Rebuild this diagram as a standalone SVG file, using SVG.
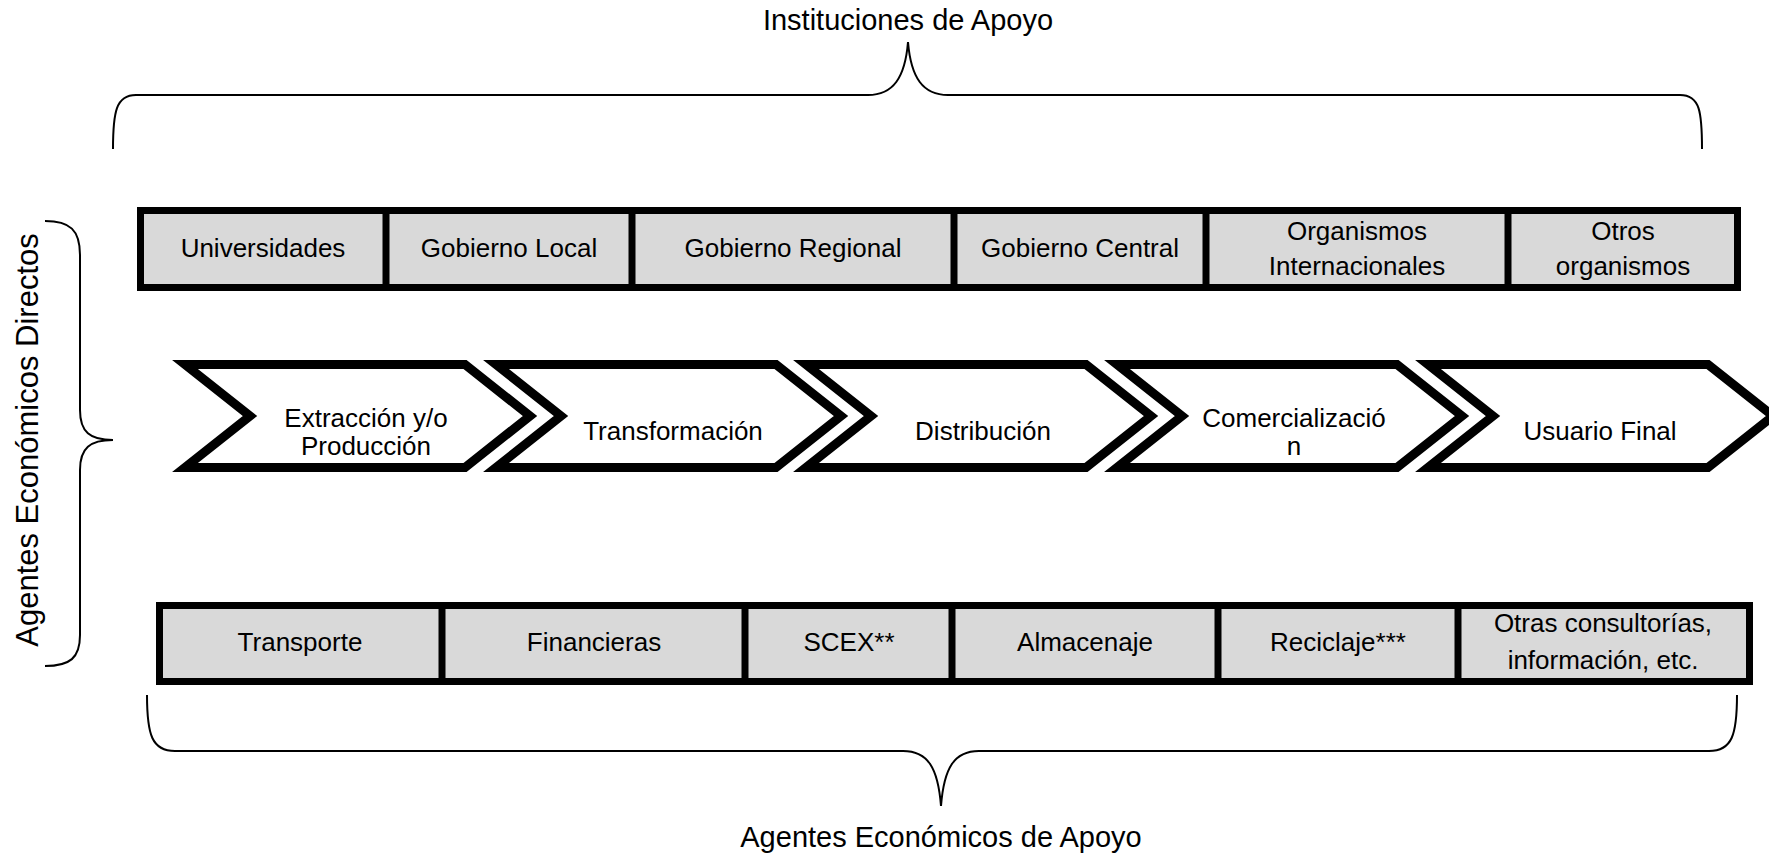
<svg xmlns="http://www.w3.org/2000/svg" width="1769" height="854" viewBox="0 0 1769 854">
<defs>
<style>
text{font-family:"Liberation Sans",Arial,sans-serif;fill:#000;text-anchor:middle}
.lbl{font-size:29px}
.lbl-v{font-size:31px}
.box{font-size:26px}
.chv{font-size:26px}
.cell{fill:#d9d9d9;stroke:#000;stroke-width:7}
.div{stroke:#000;stroke-width:7}
.chevron{fill:#fff;stroke:#000;stroke-width:9;stroke-linejoin:miter}
.brace{fill:none;stroke:#000;stroke-width:2}
</style>
</defs>
<rect width="1769" height="854" fill="#fff"/>

<g id="connectors">
<path id="brace-top" class="brace" d="M113,149 C113,112 116,95 136,95 L868,95 C893,95 905,78 908,42 C911,78 923,95 948,95 L1680,95 C1700,95 1702,112 1702,149"/>
<path id="brace-bottom" class="brace" d="M147,695 C147,735 152,751 175,751 L903,751 C928,751 938,768 941,806 C944,768 954,751 979,751 L1709,751 C1732,751 1737,735 1737,695"/>
<path id="brace-left" class="brace" d="M45,221 C70,221 80,230 80,255 L80,410 C80,432 90,440 113,440 C90,440 80,448 80,470 L80,635 C80,658 70,666 45,666"/>
</g>

<g id="label-instituciones"><text class="lbl" x="908" y="30">Instituciones de Apoyo</text></g>
<g id="label-apoyo"><text class="lbl" x="941" y="847">Agentes Económicos de Apoyo</text></g>
<g id="label-directos"><text class="lbl-v" transform="translate(38,440) rotate(-90)">Agentes Económicos Directos</text></g>

<g id="top-row">
<rect class="cell" x="140.5" y="210.5" width="1597" height="77"/>
<line class="div" x1="386" y1="210" x2="386" y2="288"/>
<line class="div" x1="632" y1="210" x2="632" y2="288"/>
<line class="div" x1="954" y1="210" x2="954" y2="288"/>
<line class="div" x1="1206" y1="210" x2="1206" y2="288"/>
<line class="div" x1="1508" y1="210" x2="1508" y2="288"/>
<g id="universidades"><text class="box" x="263" y="257">Universidades</text></g>
<g id="gobierno-local"><text class="box" x="509" y="257">Gobierno Local</text></g>
<g id="gobierno-regional"><text class="box" x="793" y="257">Gobierno Regional</text></g>
<g id="gobierno-central"><text class="box" x="1080" y="257">Gobierno Central</text></g>
<g id="organismos-internacionales"><text class="box" x="1357" y="240">Organismos</text><text class="box" x="1357" y="275">Internacionales</text></g>
<g id="otros-organismos"><text class="box" x="1623" y="240">Otros</text><text class="box" x="1623" y="275">organismos</text></g>
</g>

<g id="chevron-1">
<polygon class="chevron" points="185,364.5 465,364.5 530,416 465,467.5 185,467.5 250,416"/>
<text class="chv" x="366" y="427">Extracción y/o</text>
<text class="chv" x="366" y="455">Producción</text>
</g>
<g id="chevron-2">
<polygon class="chevron" points="496,364.5 776,364.5 841,416 776,467.5 496,467.5 561,416"/>
<text class="chv" x="673" y="440">Transformación</text>
</g>
<g id="chevron-3">
<polygon class="chevron" points="806,364.5 1086,364.5 1151,416 1086,467.5 806,467.5 871,416"/>
<text class="chv" x="983" y="440">Distribución</text>
</g>
<g id="chevron-4">
<polygon class="chevron" points="1117,364.5 1397,364.5 1462,416 1397,467.5 1117,467.5 1182,416"/>
<text class="chv" x="1294" y="427">Comercializació</text>
<text class="chv" x="1294" y="455">n</text>
</g>
<g id="chevron-5">
<polygon class="chevron" points="1428,364.5 1708,364.5 1773,416 1708,467.5 1428,467.5 1493,416"/>
<text class="chv" x="1600" y="440">Usuario Final</text>
</g>

<g id="bottom-row">
<rect class="cell" x="159.5" y="605.5" width="1590" height="76"/>
<line class="div" x1="442" y1="605" x2="442" y2="682"/>
<line class="div" x1="745" y1="605" x2="745" y2="682"/>
<line class="div" x1="952" y1="605" x2="952" y2="682"/>
<line class="div" x1="1218" y1="605" x2="1218" y2="682"/>
<line class="div" x1="1458" y1="605" x2="1458" y2="682"/>
<g id="transporte"><text class="box" x="300" y="651">Transporte</text></g>
<g id="financieras"><text class="box" x="594" y="651">Financieras</text></g>
<g id="scex"><text class="box" x="849" y="651">SCEX**</text></g>
<g id="almacenaje"><text class="box" x="1085" y="651">Almacenaje</text></g>
<g id="reciclaje"><text class="box" x="1338" y="651">Reciclaje***</text></g>
<g id="otras-consultorias"><text class="box" x="1603" y="632">Otras consultorías,</text><text class="box" x="1603" y="669">información, etc.</text></g>
</g>
</svg>
